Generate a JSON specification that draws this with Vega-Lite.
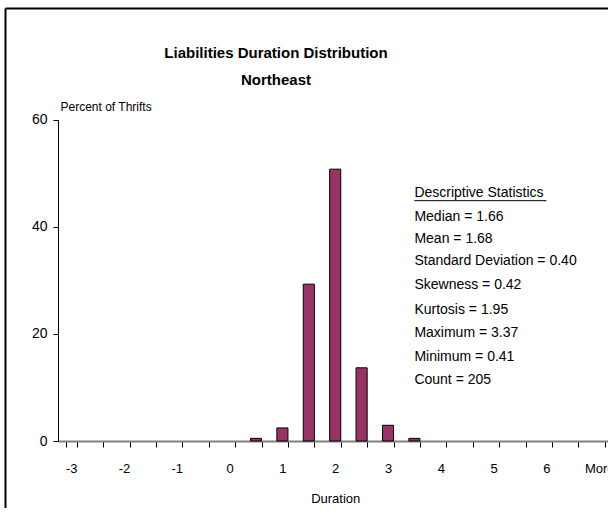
{
  "$schema": "https://vega.github.io/schema/vega-lite/v6.json",
  "width": 604,
  "height": 512,
  "autosize": {"type": "none"},
  "padding": {"left": 5, "top": 8, "right": -1, "bottom": -12},
  "background": "white",
  "config": {
    "view": {"stroke": null},
    "font": "Liberation Sans"
  },
  "title": {
    "text": ["Liabilities Duration Distribution", "Northeast"],
    "font": "Liberation Sans",
    "fontSize": 15,
    "fontWeight": "bold",
    "lineHeight": 27,
    "anchor": "middle",
    "frame": "group",
    "dx": -31,
    "offset": -80,
    "color": "black"
  },
  "resolve": {"scale": {"x": "independent", "y": "independent"}},
  "layer": [
    {
      "data": {
        "values": [
          {"bin": "0.5", "pct": 0.49},
          {"bin": "1", "pct": 2.44},
          {"bin": "1.5", "pct": 29.27},
          {"bin": "2", "pct": 50.73},
          {"bin": "2.5", "pct": 13.66},
          {"bin": "3", "pct": 2.93},
          {"bin": "3.5", "pct": 0.49}
        ]
      },
      "layer": [
        {
          "mark": {"type": "bar", "color": "#993366", "stroke": "black", "strokeWidth": 1},
          "encoding": {
            "x": {
              "field": "bin",
              "type": "ordinal",
              "scale": {
                "domain": ["-3", "-2.5", "-2", "-1.5", "-1", "-0.5", "0", "0.5", "1", "1.5", "2", "2.5", "3", "3.5", "4", "4.5", "5", "5.5", "6", "6.5", "More"],
                "range": [53, 607.4],
                "paddingInner": 0.58,
                "paddingOuter": 0.29
              },
              "axis": {
                "orient": "bottom",
                "title": "Duration",
                "offset": -79,
                "tickBand": "extent",
                "labelExpr": "indexof(['-3','-2','-1','0','1','2','3','4','5','6','More'], datum.value) >= 0 ? datum.value : ''",
                "labelAngle": 0,
                "labelOverlap": false,
                "labelFontSize": 13,
                "labelColor": "black",
                "labelPadding": 15,
                "domainColor": "#808080",
                "domainWidth": 2,
                "tickColor": "black",
                "tickSize": 6,
                "titleFont": "Liberation Sans",
                "titleFontSize": 13,
                "titleFontWeight": "normal",
                "titleColor": "black",
                "titlePadding": 17,
                "grid": false
              }
            },
            "y": {
              "field": "pct",
              "type": "quantitative",
              "scale": {"domain": [0, 60], "range": [433, 111.5], "nice": false},
              "axis": {
                "orient": "left",
                "values": [0, 20, 40, 60],
                "offset": -53,
                "title": "Percent of Thrifts",
                "titleAngle": 0,
                "titleAlign": "left",
                "titleBaseline": "alphabetic",
                "titleX": 2,
                "titleY": 102,
                "titleFont": "Liberation Sans",
                "titleFontSize": 12,
                "titleFontWeight": "normal",
                "titleColor": "black",
                "labelFontSize": 14,
                "labelColor": "black",
                "labelPadding": 6,
                "domainColor": "black",
                "tickColor": "black",
                "tickSize": 5,
                "grid": false
              }
            }
          }
        },
        {
          "data": {
            "values": [
              {"bin": "3.5", "pct": 46.3, "label": "Descriptive Statistics"},
              {"bin": "3.5", "pct": 41.8, "label": "Median  = 1.66"},
              {"bin": "3.5", "pct": 37.7, "label": "Mean = 1.68"},
              {"bin": "3.5", "pct": 33.6, "label": "Standard Deviation = 0.40"},
              {"bin": "3.5", "pct": 29.1, "label": "Skewness = 0.42"},
              {"bin": "3.5", "pct": 24.45, "label": "Kurtosis = 1.95"},
              {"bin": "3.5", "pct": 20.15, "label": "Maximum = 3.37"},
              {"bin": "3.5", "pct": 15.7, "label": "Minimum = 0.41"},
              {"bin": "3.5", "pct": 11.4, "label": "Count = 205"}
            ]
          },
          "mark": {
            "type": "text",
            "align": "left",
            "baseline": "middle",
            "font": "Liberation Sans",
            "fontSize": 14,
            "color": "black"
          },
          "encoding": {
            "x": {"field": "bin", "type": "ordinal"},
            "y": {"field": "pct", "type": "quantitative"},
            "text": {"field": "label"}
          }
        },
        {
          "data": {"values": [{"bin": "3.5", "bin_end": "6", "pct": 44.85}]},
          "mark": {"type": "rule", "color": "black", "strokeWidth": 1},
          "encoding": {
            "x": {"field": "bin", "type": "ordinal"},
            "x2": {"field": "bin_end"},
            "y": {"field": "pct", "type": "quantitative"}
          }
        }
      ]
    },
    {
      "data": {"values": [{"fx": 0, "fy": 0}]},
      "mark": {"type": "point", "opacity": 0},
      "encoding": {
        "x": {
          "field": "fx",
          "type": "quantitative",
          "scale": {"domain": [0, 1], "range": [0, 700]},
          "axis": {"orient": "top", "title": null, "labels": false, "ticks": false, "grid": false, "domainColor": "black", "domainWidth": 2, "offset": 0}
        },
        "y": {
          "field": "fy",
          "type": "quantitative",
          "scale": {"domain": [0, 1], "range": [560, 0]},
          "axis": {"orient": "left", "title": null, "labels": false, "ticks": false, "grid": false, "domainColor": "black", "domainWidth": 2, "offset": 0}
        }
      }
    }
  ]
}
